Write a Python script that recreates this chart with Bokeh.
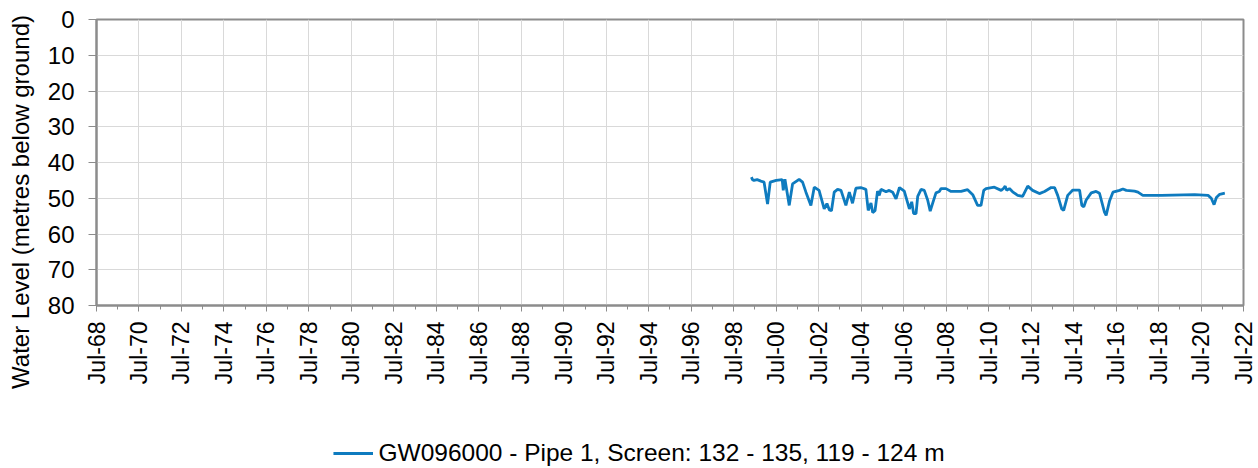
import math
import pandas as pd
from bokeh.plotting import figure
from bokeh.layouts import column, row
from bokeh.models import ColumnDataSource, Range1d, FixedTicker, Legend, LegendItem, Label
from bokeh.embed import file_html
from bokeh.resources import INLINE

# ---------------- data ----------------
dates = [
    "1999-05-01", "1999-05-20", "1999-06-15", "1999-08-08", "1999-10-12", "1999-12-05",
    "2000-02-03", "2000-03-20", "2000-07-01", "2000-10-12", "2000-10-30", "2000-11-28",
    "2001-02-10", "2001-04-08", "2001-07-30", "2001-09-27", "2001-11-24",
    "2002-02-17", "2002-04-16", "2002-07-08", "2002-10-04", "2002-11-20",
    "2003-01-01", "2003-02-06", "2003-03-25", "2003-05-22", "2003-07-20", "2003-10-12", "2003-12-10",
    "2004-02-03", "2004-04-01", "2004-06-24", "2004-09-20", "2004-10-30", "2004-12-16",
    "2005-01-15", "2005-02-24", "2005-04-08", "2005-05-08", "2005-06-06", "2005-09-01", "2005-10-26", "2005-12-24",
    "2006-02-20", "2006-04-20", "2006-07-12", "2006-10-08", "2006-11-17", "2006-12-20",
    "2007-01-30", "2007-02-28", "2007-04-27", "2007-06-21", "2007-08-18", "2007-10-01", "2007-11-10",
    "2008-01-08", "2008-03-06", "2008-04-05", "2008-06-28", "2008-09-24",
    "2009-03-15", "2009-07-05", "2009-10-01", "2009-12-24",
    "2010-02-20", "2010-04-08", "2010-05-18", "2010-10-08",
    "2011-02-02", "2011-03-18", "2011-04-12", "2011-05-08", "2011-06-24", "2011-08-18", "2011-11-14",
    "2012-02-06", "2012-05-04", "2012-07-27", "2012-11-20",
    "2013-02-17", "2013-06-10", "2013-08-08", "2013-10-01", "2013-12-10",
    "2014-01-12", "2014-03-22", "2014-06-18", "2014-10-12", "2014-11-20", "2014-12-24",
    "2015-02-03", "2015-05-01", "2015-07-24", "2015-09-20", "2015-12-14",
    "2016-01-12", "2016-03-10", "2016-05-08", "2016-08-30", "2016-10-26", "2016-12-24",
    "2017-05-15", "2017-07-12", "2017-10-04", "2018-08-18",
    "2020-03-14", "2020-10-30", "2020-12-24", "2021-02-10", "2021-03-22", "2021-05-18", "2021-08-14",
]
levels = [
    44.1, 44.8, 45.0, 44.8, 45.2, 45.5,
    51.6, 45.5, 45.0, 44.8, 47.8, 44.7,
    52.0, 46.0, 44.7, 45.5, 48.3,
    52.0, 46.9, 47.8, 53.0, 51.5,
    53.3, 53.5, 48.3, 47.5, 47.8, 52.0, 48.3,
    51.4, 47.2, 47.0, 47.5, 53.4, 51.3,
    54.0, 53.5, 48.0, 49.2, 47.5, 48.2, 47.8, 48.3,
    50.2, 47.0, 48.0, 53.0, 51.0, 54.3,
    54.3, 49.5, 47.5, 47.8, 50.5, 53.6, 51.5,
    48.5, 48.1, 47.3, 47.3, 48.1,
    48.1, 47.6, 49.0, 52.0,
    52.0, 47.8, 47.3, 46.9,
    47.8, 47.2, 46.6, 47.8, 47.3, 48.2, 49.2,
    49.5, 46.6, 47.8, 48.7,
    48.1, 47.0, 47.0, 49.2, 53.0,
    53.4, 49.2, 47.7, 47.7, 52.0, 52.4,
    50.5, 48.5, 48.1, 48.6, 53.9,
    54.8, 50.8, 48.3, 47.8, 47.4, 47.8,
    48.0, 48.3, 49.2, 49.2,
    49.0, 49.2, 50.0, 51.8, 49.8, 48.9, 48.6,
]
tick_labels = ["Jul-%02d" % (y % 100) for y in range(1968, 2023, 2)]
tick_dates = ["%d-07-01" % y for y in range(1968, 2023, 2)]
minor_dates = ["%d-07-01" % y for y in range(1968, 2023)]
y_ticks = [0, 10, 20, 30, 40, 50, 60, 70, 80]
series_name = "GW096000 - Pipe 1, Screen: 132 - 135, 119 - 124 m"
y_title = "Water Level (metres below ground)"

def ms(d):
    return float(pd.Timestamp(d).value // 10**6)

FONT = "Liberation Sans"
LINE_COLOR = "#0e7bbf"
AXIS_COLOR = "#8c8c8c"

LAB_W = 44
MAIN_H = 435

# ---------------- main chart ----------------
src = ColumnDataSource(dict(x=pd.to_datetime(dates), y=levels))

p = figure(
    frame_width=1147, frame_height=286,
    x_axis_type="datetime",
    x_range=Range1d(ms(tick_dates[0]), ms(tick_dates[-1])),
    y_range=Range1d(80, 0),
    output_backend="svg", toolbar_location=None,
    min_border_left=92 - LAB_W, min_border_right=19, min_border_top=19,
    min_border_bottom=MAIN_H - 19 - 286,
)
p.frame_align = False
p.background_fill_color = "white"
p.border_fill_color = "white"
p.outline_line_color = AXIS_COLOR
p.outline_line_width = 2

p.line("x", "y", source=src, line_color=LINE_COLOR, line_width=2.8)

tick_ms = [ms(d) for d in tick_dates]
p.xaxis.ticker = FixedTicker(ticks=tick_ms, minor_ticks=[ms(d) for d in minor_dates])
p.xaxis.major_label_overrides = {t: lab for t, lab in zip(tick_ms, tick_labels)}
p.xaxis.major_label_orientation = math.pi / 2
p.xaxis.major_label_text_font = FONT
p.xaxis.major_label_text_font_size = "23px"
p.xaxis.major_label_text_color = "#000000"
p.xaxis.major_label_standoff = 10
p.xaxis.major_tick_out = 6
p.xaxis.major_tick_in = 0
p.xaxis.minor_tick_out = 4
p.xaxis.minor_tick_in = 0
p.xaxis.axis_line_color = AXIS_COLOR
p.xaxis.axis_line_width = 2
p.xaxis.major_tick_line_color = AXIS_COLOR
p.xaxis.minor_tick_line_color = AXIS_COLOR

p.yaxis.ticker = FixedTicker(ticks=y_ticks)
p.yaxis.major_label_text_font = FONT
p.yaxis.major_label_text_font_size = "24px"
p.yaxis.major_label_text_color = "#000000"
p.yaxis.major_label_standoff = 14
p.yaxis.major_tick_out = 8
p.yaxis.major_tick_in = 0
p.yaxis.minor_tick_line_color = None
p.yaxis.axis_line_color = AXIS_COLOR
p.yaxis.axis_line_width = 2
p.yaxis.major_tick_line_color = AXIS_COLOR

p.xgrid.grid_line_color = "#d9d9d9"
p.ygrid.grid_line_color = "#d9d9d9"

# ---------------- y-axis title panel ----------------
ylab = figure(
    width=LAB_W, height=MAIN_H,
    x_range=Range1d(0, LAB_W), y_range=Range1d(MAIN_H, 0),
    x_axis_location=None, y_axis_location=None,
    output_backend="svg", toolbar_location=None, min_border=0,
)
ylab.frame_align = False
ylab.grid.visible = False
ylab.outline_line_color = None
ylab.add_layout(Label(
    x=20, y=201.5, text=y_title, angle=math.pi / 2,
    text_align="center", text_baseline="middle",
    text_font=FONT, text_font_size="24px", text_color="#000000",
))

# ---------------- legend panel ----------------
leg = figure(
    width=1258, height=36,
    x_range=Range1d(0, 1), y_range=Range1d(0, 1),
    x_axis_location=None, y_axis_location=None,
    output_backend="svg", toolbar_location=None,
    min_border=0, min_border_left=19,
)
leg.frame_align = False
leg.grid.visible = False
leg.outline_line_color = None
# legend sample line; its points lie outside the panel's ranges
dummy = leg.line(x=[-2, -1], y=[-2, -1], line_color=LINE_COLOR, line_width=2.8)
legend = Legend(
    items=[LegendItem(label=series_name, renderers=[dummy])],
    location="center", orientation="horizontal",
    border_line_color=None, background_fill_alpha=0,
    label_text_font=FONT, label_text_font_size="24.5px", label_text_color="#000000",
    glyph_width=40, label_standoff=6, padding=0, margin=0,
)
leg.add_layout(legend, "center")

layout = column(row(ylab, p), leg)
open("out.html", "w").write(file_html(layout, INLINE))
